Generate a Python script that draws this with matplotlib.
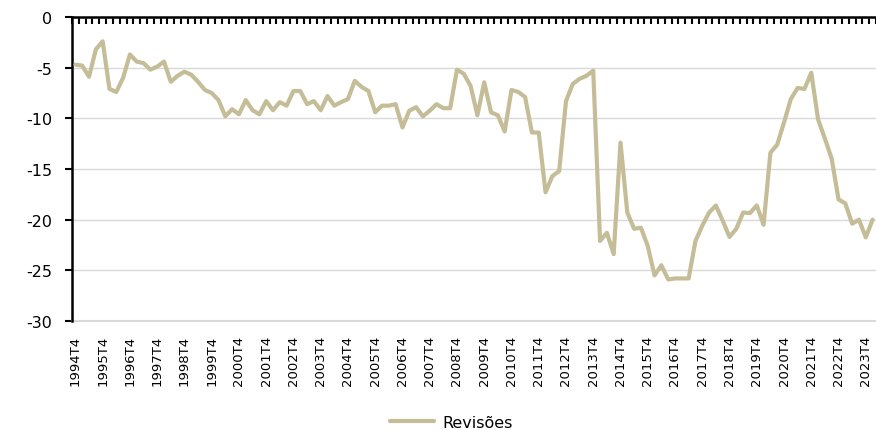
import numpy as np
import matplotlib
matplotlib.use('Agg')
import matplotlib.pyplot as plt

# quarterly series, 1994T4 .. 2024T1
start_year = 1994
revisoes = [
    -4.7, -4.8, -5.9, -3.2, -2.4, -7.1, -7.4, -6.0, -3.7, -4.4,
    -4.55, -5.2, -4.9, -4.4, -6.4, -5.8, -5.4, -5.7, -6.4, -7.2,
    -7.5, -8.2, -9.8, -9.1, -9.6, -8.2, -9.2, -9.6, -8.3, -9.2,
    -8.4, -8.75, -7.3, -7.3, -8.6, -8.3, -9.2, -7.8, -8.75, -8.4,
    -8.1, -6.3, -6.9, -7.3, -9.4, -8.75, -8.75, -8.6, -10.9, -9.25,
    -8.9, -9.8, -9.25, -8.6, -9.0, -9.0, -5.2, -5.6, -6.8, -9.7,
    -6.45, -9.4, -9.7, -11.3, -7.2, -7.4, -7.9, -11.4, -11.4, -17.3,
    -15.7, -15.2, -8.3, -6.6, -6.1, -5.8, -5.3, -22.1, -21.3, -23.4,
    -12.4, -19.3, -20.9, -20.8, -22.6, -25.5, -24.5, -25.9, -25.8, -25.8,
    -25.8, -22.1, -20.6, -19.3, -18.6, -20.1, -21.7, -20.9, -19.3, -19.35,
    -18.6, -20.5, -13.4, -12.6, -10.4, -8.1, -7.0, -7.1, -5.5, -10.1,
    -12.0, -14.0, -18.0, -18.4, -20.4, -20.0, -21.75, -20.0,
]
n = len(revisoes)
tick_labels = ['%dT4' % (start_year + k // 4) for k in range(0, n, 4)]
yticks = [0, -5, -10, -15, -20, -25, -30]

line_color = '#C4BD97'
grid_color = '#D9D9D9'

fig = plt.figure(figsize=(8.76, 4.31), dpi=100)
ax = fig.add_axes([72 / 876, 1 - 322 / 431, 804 / 876, 304 / 431])

x = np.arange(n)
ax.plot(x, revisoes, color=line_color, lw=3, solid_joinstyle='round',
        solid_capstyle='round', label='Revisões', zorder=3)

ax.set_xlim(-0.5, n - 0.5)
ax.set_ylim(-30, 0)

# y axis
ax.set_yticks(yticks)
ax.set_yticklabels([str(v) for v in yticks], fontsize=11.5)
ax.yaxis.grid(True, color=grid_color, lw=1)
ax.axhline(-30, color=grid_color, lw=1.5, clip_on=False, zorder=1)
ax.set_axisbelow(True)
ax.tick_params(axis='y', direction='out', length=5, width=1.5, pad=9)

# x axis: labels at bottom, tick marks on top spine
ax.set_xticks(np.arange(0, n, 4))
ax.set_xticklabels(tick_labels, rotation=90, fontsize=9.5)
ax.tick_params(axis='x', which='major', length=0, pad=10, bottom=True, top=False)
ax.set_xticks(np.arange(-0.5, n, 1), minor=True)
ax.tick_params(axis='x', which='minor', top=True, bottom=False, direction='in',
               length=5, width=1.5)

for side in ['right', 'bottom']:
    ax.spines[side].set_visible(False)
ax.spines['top'].set_linewidth(1.8)
ax.spines['left'].set_linewidth(1.8)

fig.legend(loc='center', bbox_to_anchor=(0.515, 0.018), frameon=False,
           fontsize=11.5, handlelength=2.8, handletextpad=0.5)

fig.savefig('out.png', dpi=100)
plt.close(fig)
